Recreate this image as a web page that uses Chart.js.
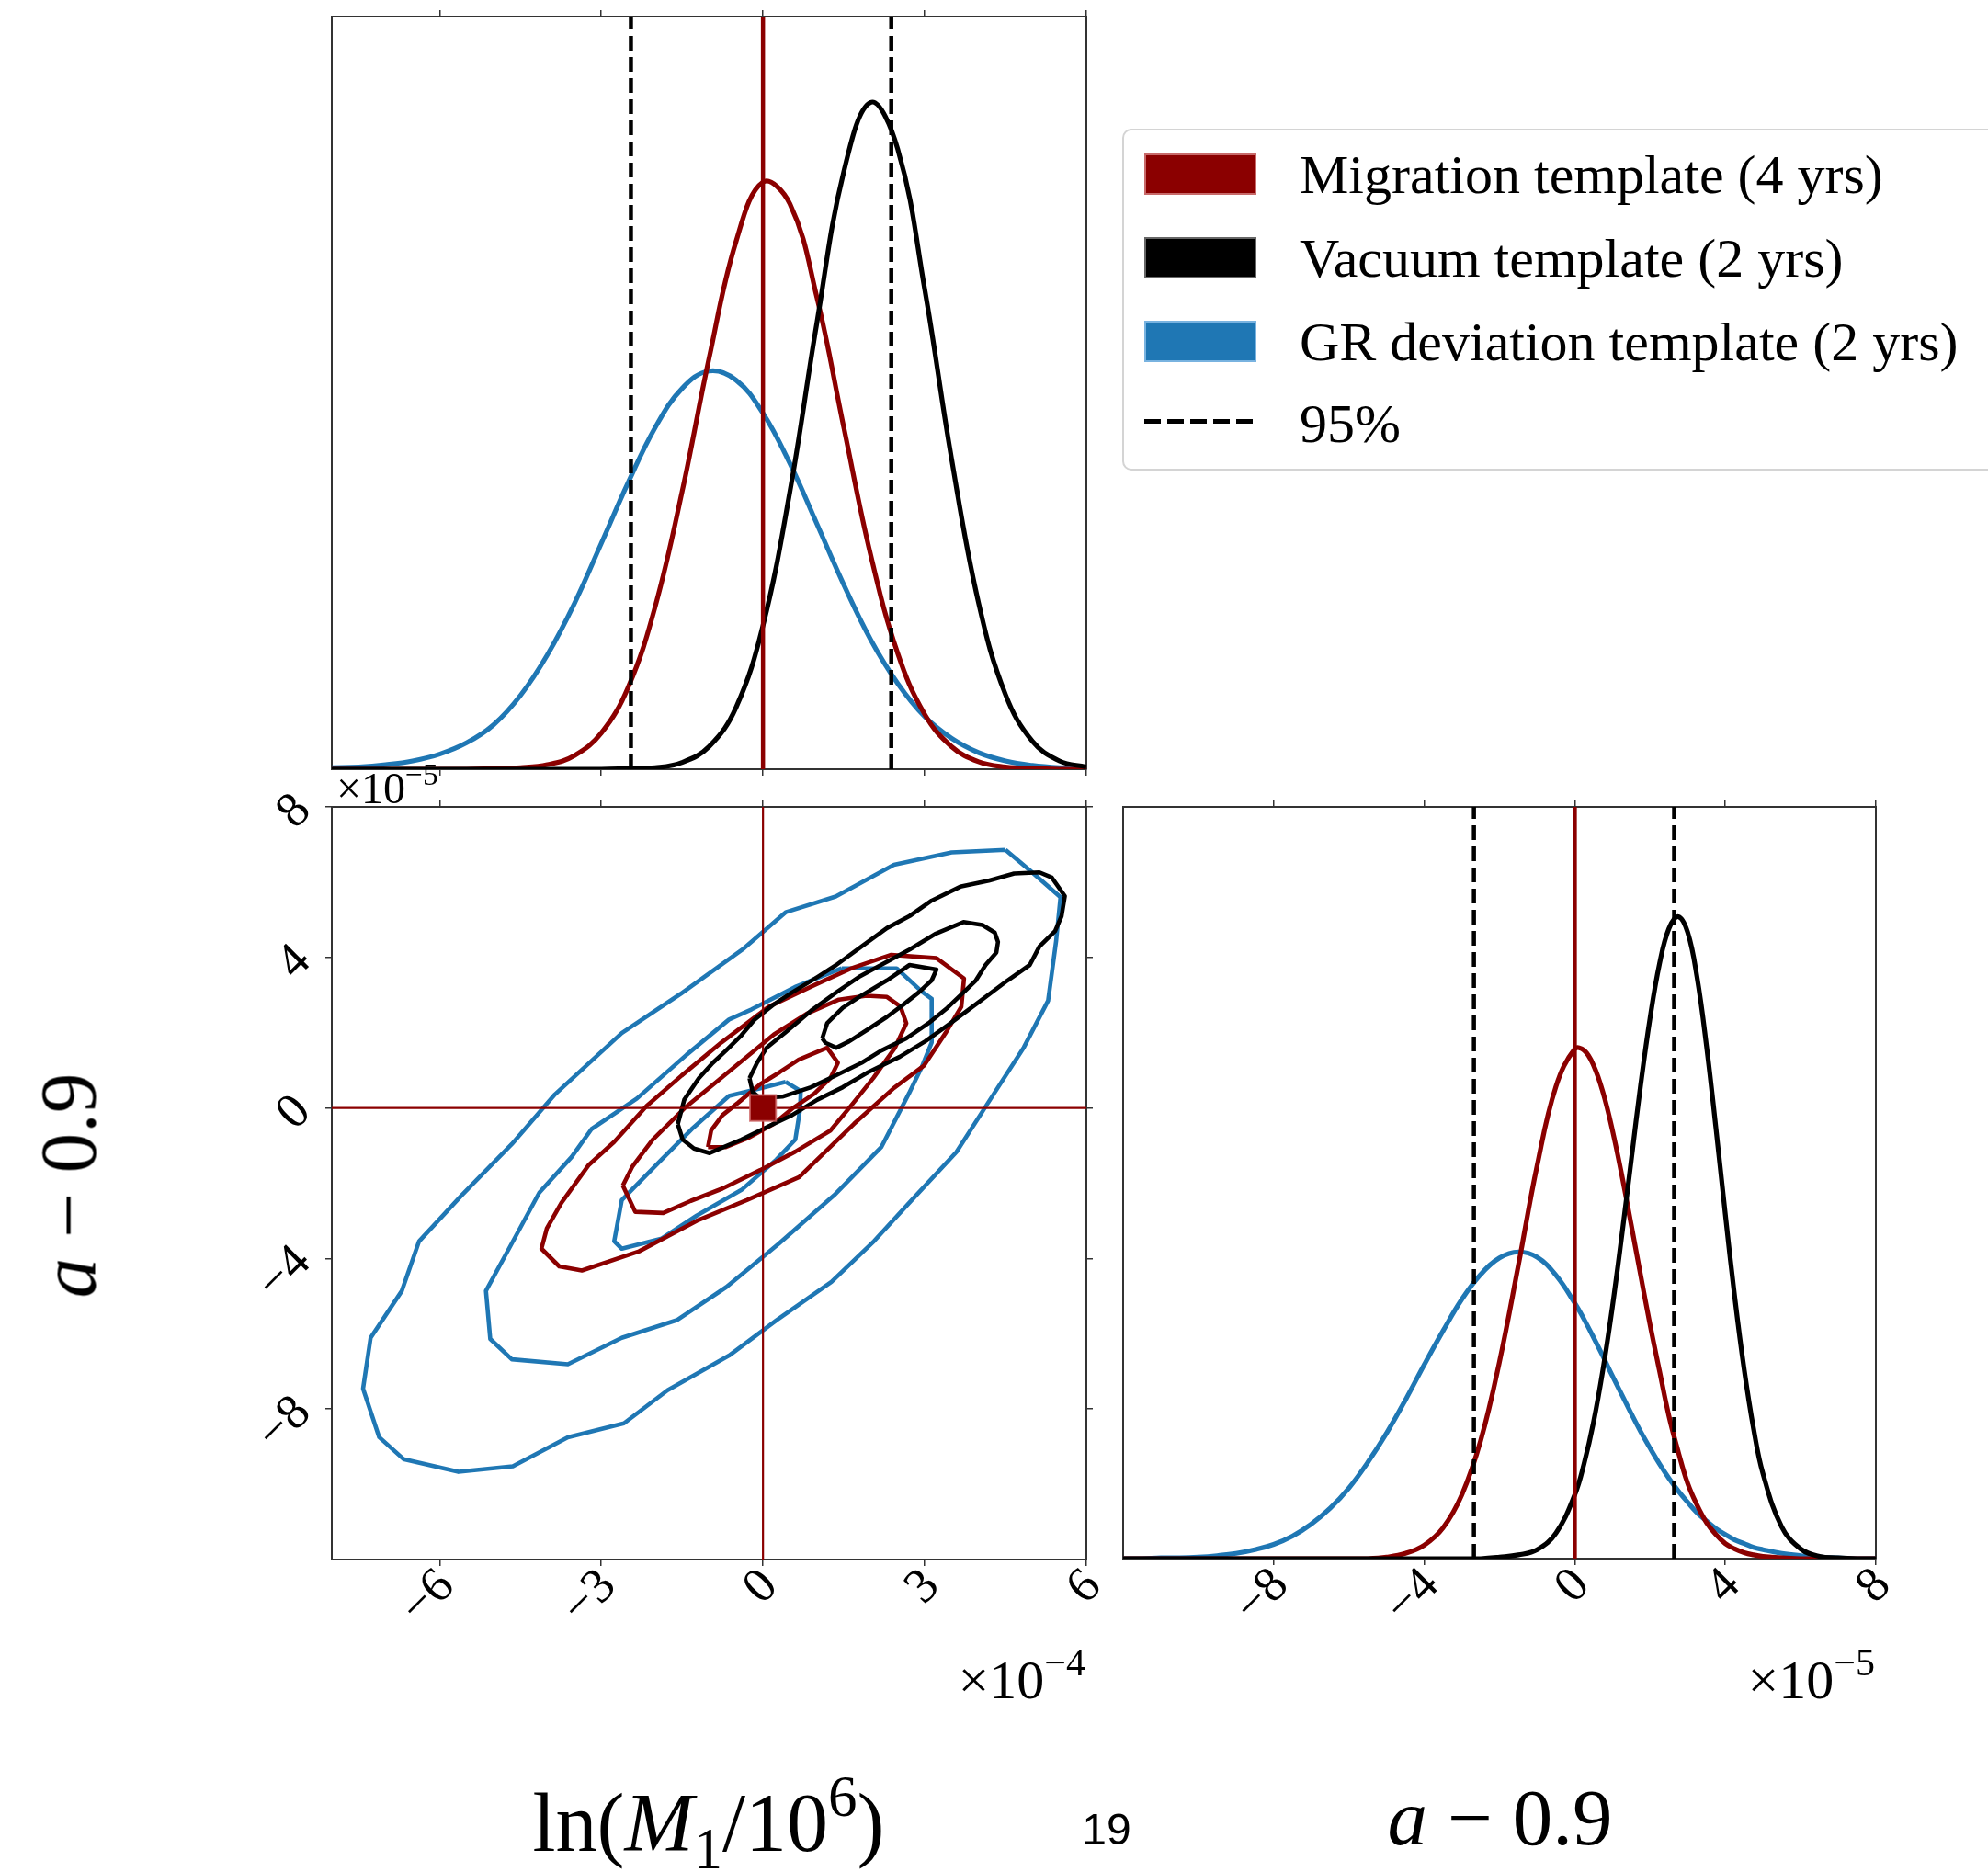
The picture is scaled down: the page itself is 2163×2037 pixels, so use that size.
<!DOCTYPE html>
<html>
<head>
<meta charset="utf-8">
<script src="https://cdn.jsdelivr.net/npm/chart.js@4.4.1/dist/chart.umd.min.js"></script>
<style>
  html, body { margin: 0; padding: 0; background: #fff; }
  #page { position: relative; width: 2163px; height: 2037px; overflow: hidden; font-family: "Liberation Serif", serif; color: #000; }
  canvas { position: absolute; left: 0; top: 0; z-index: 0; }
  .txt { position: absolute; white-space: nowrap; z-index: 2; }
  .sup, .sub { font-size: 0.7em; position: relative; line-height: 0; }
  .sup { top: -0.6em; }
  .sub { top: 0.3em; }
  .legend { position: absolute; left: 1221px; top: 140px; width: 1000px; height: 372px; box-sizing: border-box;
            border: 2px solid #d4d4d4; border-radius: 10px; background: rgba(255,255,255,0.85); z-index: 1; }
  .patch { position: absolute; left: 1245px; width: 122px; height: 45px; box-sizing: border-box; border: 2px solid; z-index: 2; }
  .dash { position: absolute; left: 1245px; top: 456px; width: 122px; height: 5px; z-index: 2;
          background: repeating-linear-gradient(90deg, #000 0 18px, transparent 18px 25px); }
  .leg { left: 1414px; font-size: 60px; line-height: 60px; }
</style>
</head>
<body>
<div id="page">
  <canvas id="topPanel" width="2163" height="2037"></canvas>
  <canvas id="jointPanel" width="2163" height="2037"></canvas>
  <canvas id="sidePanel" width="2163" height="2037"></canvas>

  <div class="legend"></div>
  <div class="patch" style="top:167px; background:#8b0000; border-color:#c86a6a;"></div>
  <div class="patch" style="top:258px; background:#000; border-color:#666;"></div>
  <div class="patch" style="top:349px; background:#1f77b4; border-color:#79b3e0;"></div>
  <div class="dash"></div>
  <div class="txt leg" style="top:160px;">Migration template (4 yrs)</div>
  <div class="txt leg" style="top:251px;">Vacuum template (2 yrs)</div>
  <div class="txt leg" style="top:342px;">GR deviation template (2 yrs)</div>
  <div class="txt leg" style="top:431px;">95%</div>

  <div class="txt" style="left:366px; top:834px; font-size:48px; line-height:48px;">×10<span class="sup">−5</span></div>
  <div class="txt" style="right:982px; top:1798px; font-size:60px; line-height:60px;">×10<span class="sup">−4</span></div>
  <div class="txt" style="right:123px; top:1798px; font-size:60px; line-height:60px;">×10<span class="sup">−5</span></div>

  <div class="txt" style="left:771px; top:1939px; font-size:90px; line-height:90px; transform:translateX(-50%);">ln(<i>M</i><span class="sub">1</span>/10<span class="sup">6</span>)</div>
  <div class="txt" style="left:1632px; top:1934px; font-size:87px; line-height:87px; transform:translateX(-50%);"><i>a</i> − 0.9</div>
  <div class="txt" style="left:74px; top:1290px; font-size:87px; line-height:87px; transform:translate(-50%,-50%) rotate(-90deg);"><i>a</i> − 0.9</div>
  <div class="txt" style="left:1204px; top:1967px; font-size:48px; line-height:48px; font-family:'Liberation Sans', sans-serif; transform:translateX(-50%);">19</div>
</div>

<script>
// marginal of ln(M1/10^6), x in units of 1e-4, heights as fraction of panel
const topGrid = [-8, -7.5, -7, -6.5, -6, -5.5, -5, -4.5, -4, -3.5, -3, -2.5, -2, -1.5, -1, -0.5,
                 0, 0.5, 1, 1.5, 2, 2.5, 3, 3.5, 4, 4.5, 5, 5.5, 6];
const topMigration = [0, 0, 0, 0, 0, 0, 0.001, 0.002, 0.006, 0.018, 0.048, 0.109, 0.216, 0.369, 0.546, 0.701,
                      0.780, 0.751, 0.627, 0.454, 0.284, 0.154, 0.073, 0.030, 0.010, 0.003, 0.001, 0, 0];
const topVacuum = [0, 0, 0, 0, 0, 0, 0, 0, 0, 0, 0, 0.001, 0.002, 0.009, 0.030, 0.082,
                   0.191, 0.369, 0.593, 0.794, 0.886, 0.824, 0.638, 0.412, 0.221, 0.099, 0.037, 0.011, 0.003];
const topGR = [0.002, 0.003, 0.006, 0.011, 0.020, 0.035, 0.059, 0.098, 0.152, 0.220, 0.300, 0.381, 0.454, 0.506, 0.529, 0.517,
               0.473, 0.406, 0.326, 0.245, 0.172, 0.114, 0.070, 0.041, 0.022, 0.011, 0.005, 0.002, 0.001];
const top95 = [-2.45, 2.38];

// marginal of a - 0.9, x in units of 1e-5 (finer steps where the peaks are)
const sideGrid = [-12, -11.5, -11, -10.5, -10, -9.5, -9, -8.5, -8, -7.5, -7, -6.5, -6, -5.5, -5, -4.5, -4, -3.5, -3, -2.5,
                  -2, -1.5, -1, -0.5, 0,
                  0.25, 0.5, 0.75, 1, 1.25, 1.5, 1.75, 2, 2.25, 2.5, 2.75, 3, 3.25, 3.5, 3.75, 4, 4.25, 4.5, 4.75, 5,
                  5.5, 6, 6.5, 7, 7.5, 8];
const sideMigration = [0, 0, 0, 0, 0, 0, 0, 0, 0, 0, 0, 0, 0, 0, 0.002, 0.007, 0.018, 0.041, 0.085, 0.157,
                       0.262, 0.390, 0.523, 0.628, 0.678,
                       0.676, 0.656, 0.620, 0.570, 0.510, 0.444, 0.377, 0.311, 0.250, 0.190, 0.142, 0.100, 0.071, 0.048, 0.032, 0.020, 0.013, 0.008, 0.005, 0.003,
                       0.001, 0, 0, 0, 0, 0];
const sideVacuum = [0, 0, 0, 0, 0, 0, 0, 0, 0, 0, 0, 0, 0, 0, 0, 0, 0, 0, 0, 0,
                    0.002, 0.005, 0.012, 0.034, 0.085,
                    0.127, 0.182, 0.252, 0.335, 0.430, 0.530, 0.630, 0.719, 0.791, 0.838, 0.854, 0.833, 0.773, 0.682, 0.573, 0.458, 0.348, 0.252, 0.173, 0.113,
                    0.042, 0.013, 0.003, 0.001, 0, 0];
const sideGR = [0, 0, 0.001, 0.001, 0.002, 0.004, 0.007, 0.012, 0.019, 0.030, 0.046, 0.067, 0.094, 0.128, 0.167, 0.211, 0.258, 0.303, 0.345, 0.378,
                0.400, 0.408, 0.401, 0.377, 0.340,
                0.318, 0.294, 0.269, 0.243, 0.218, 0.193, 0.169, 0.147, 0.126, 0.107, 0.090, 0.075, 0.061, 0.050, 0.040, 0.032, 0.025, 0.020, 0.015, 0.012,
                0.007, 0.004, 0.002, 0.001, 0, 0];
const side95 = [-2.68, 2.64];

const truthMass = 0;
const truthSpin = 0;
const massTicks = [-6, -3, 0, 3, 6];
const spinTicks = [-8, -4, 0, 4, 8];

// joint contours [lnM (1e-4), a-0.9 (1e-5)]
const grOuter = [[4.50, 6.86], [3.50, 6.79], [2.43, 6.46], [1.35, 5.62], [0.42, 5.20], [-0.38, 4.21], [-1.53, 3.03], [-2.62, 1.99],
  [-3.86, 0.36], [-4.66, -0.96], [-5.59, -2.32], [-6.38, -3.54], [-6.70, -4.86], [-7.28, -6.11], [-7.42, -7.46], [-7.12, -8.75],
  [-6.67, -9.33], [-5.65, -9.67], [-4.64, -9.52], [-3.62, -8.75], [-2.58, -8.38], [-1.77, -7.50], [-0.63, -6.58], [0.25, -5.64],
  [1.27, -4.62], [2.06, -3.54], [2.76, -2.45], [3.59, -1.17], [4.29, 0.39], [4.84, 1.61], [5.29, 2.85], [5.44, 4.45],
  [5.52, 5.60], [4.98, 6.28], [4.50, 6.86]];
const grMid = [[1.46, 3.71], [2.48, 3.71], [2.94, 3.10], [3.13, 2.90], [3.13, 1.74], [2.94, 1.07], [2.71, 0.39], [2.20, -1.03],
  [1.32, -2.32], [0.30, -3.60], [-0.68, -4.76], [-1.60, -5.64], [-2.62, -6.11], [-3.62, -6.81], [-4.66, -6.68], [-5.06, -6.14],
  [-5.14, -4.86], [-4.66, -3.60], [-4.15, -2.25], [-3.55, -1.30], [-3.18, -0.56], [-2.34, 0.25], [-1.42, 1.41], [-0.63, 2.35],
  [-0.21, 2.62], [0.62, 3.23], [1.46, 3.71]];
const grInner = [[0.42, 0.69], [0.70, 0.45], [0.69, -0.02], [0.60, -0.84], [0.25, -1.37], [-0.40, -2.18], [-1.23, -2.86],
  [-1.88, -3.47], [-2.62, -3.74], [-2.76, -3.54], [-2.62, -2.45], [-1.88, -1.37], [-1.32, -0.56], [-0.63, 0.32], [-0.03, 0.53], [0.42, 0.69]];
const migOuter = [[3.22, 3.98], [3.73, 3.44], [3.68, 2.69], [3.40, 2.02], [2.99, 1.13], [2.43, 0.53], [1.69, -0.42], [0.67, -1.84],
  [-0.30, -2.45], [-1.23, -3.00], [-2.30, -3.81], [-3.36, -4.32], [-3.78, -4.21], [-4.11, -3.74], [-4.01, -3.20], [-3.74, -2.52],
  [-3.23, -1.51], [-2.76, -0.90], [-2.16, 0.05], [-1.51, 0.86], [-0.77, 1.74], [0.11, 2.69], [0.90, 3.23], [1.64, 3.71],
  [2.38, 4.07], [3.22, 3.98]];
const migMid = [[-2.60, -2.06], [-2.42, -1.55], [-2.05, -0.85], [-1.45, 0.00], [-0.90, 0.65], [-0.30, 1.36], [0.20, 1.95],
  [0.81, 2.50], [1.41, 2.88], [1.92, 2.98], [2.30, 2.95], [2.55, 2.70], [2.66, 2.25], [2.45, 1.60], [2.05, 0.80], [1.60, 0.00],
  [1.25, -0.60], [0.60, -1.16], [-0.05, -1.65], [-0.75, -2.14], [-1.34, -2.47], [-1.85, -2.79], [-2.37, -2.76], [-2.60, -2.06]];
const migInner = [[-1.02, -1.04], [-0.96, -0.59], [-0.75, -0.19], [-0.46, 0.14], [-0.05, 0.63], [0.31, 0.95], [0.66, 1.28],
  [1.19, 1.60], [1.39, 1.20], [1.25, 0.79], [0.95, 0.38], [0.54, -0.02], [0.19, -0.43], [-0.28, -0.80], [-0.69, -1.04], [-1.02, -1.04]];
const vacOuter = [[-1.58, -0.43], [-1.46, 0.22], [-1.19, 0.79], [-0.93, 1.20], [-0.69, 1.52], [-0.40, 1.93], [-0.16, 2.34],
  [0.19, 2.74], [0.54, 3.07], [1.01, 3.48], [1.36, 3.80], [1.83, 4.29], [2.30, 4.78], [2.72, 5.10], [3.13, 5.51], [3.66, 5.88],
  [4.19, 6.04], [4.66, 6.23], [5.13, 6.26], [5.36, 6.12], [5.60, 5.63], [5.54, 5.10], [5.42, 4.70], [5.13, 4.29], [4.95, 3.80],
  [4.54, 3.39], [4.01, 2.82], [3.48, 2.25], [3.01, 1.77], [2.54, 1.36], [1.95, 0.95], [1.48, 0.55], [1.01, 0.22], [0.54, -0.19],
  [0.07, -0.51], [-0.40, -0.84], [-0.99, -1.20], [-1.28, -1.08], [-1.49, -0.84], [-1.58, -0.43]];
const vacMid = [[-0.25, 0.79], [-0.11, 1.20], [0.07, 1.60], [0.42, 2.01], [0.89, 2.58], [1.36, 3.07], [1.78, 3.48], [2.19, 3.80],
  [2.72, 4.21], [3.19, 4.62], [3.72, 4.94], [4.07, 4.86], [4.30, 4.66], [4.36, 4.41], [4.33, 4.13], [4.13, 3.80], [3.95, 3.39],
  [3.72, 3.07], [3.42, 2.66], [3.07, 2.25], [2.66, 1.85], [2.19, 1.52], [1.83, 1.20], [1.36, 0.87], [0.89, 0.55], [0.36, 0.30],
  [-0.05, 0.26], [-0.19, 0.42], [-0.25, 0.79]];
const vacInner = [[1.10, 1.85], [1.19, 2.25], [1.48, 2.66], [1.83, 2.99], [2.30, 3.39], [2.72, 3.80], [3.22, 3.68], [3.13, 3.39],
  [2.89, 3.07], [2.60, 2.74], [2.30, 2.42], [1.95, 2.09], [1.60, 1.77], [1.36, 1.60], [1.16, 1.73], [1.10, 1.85]];

const RED = '#8b0000', BLUE = '#1f77b4', BLACK = '#000000';
const TICK_FONT = '54px "Liberation Serif", serif';
const EDGE = '#333333';

function curve(grid, vals, color) {
  return {
    data: grid.map((x, i) => ({ x: x, y: vals[i] })),
    showLine: true, borderColor: color, borderWidth: 5.2,
    pointRadius: 0, tension: 0.4, fill: false
  };
}

function vline(x, y0, y1, color, width, dash) {
  return {
    data: [{ x: x, y: y0 }, { x: x, y: y1 }],
    showLine: true, borderColor: color, borderWidth: width,
    borderDash: dash || [], pointRadius: 0
  };
}

function hline(y, x0, x1, color, width) {
  return { data: [{ x: x0, y: y }, { x: x1, y: y }], showLine: true, borderColor: color, borderWidth: width, pointRadius: 0 };
}

function loop(pts, color) {
  return {
    data: pts.map(p => ({ x: p[0], y: p[1] })),
    showLine: true, borderColor: color, borderWidth: 4.6,
    pointRadius: 0, tension: 0, borderJoinStyle: 'round'
  };
}

function axis(which, position, min, max, ticks) {
  return {
    type: 'linear', axis: which, position: position, min: min, max: max,
    ticks: { display: false },
    grid: { display: ticks.length > 0, drawOnChartArea: false, drawTicks: true, tickLength: 7, color: EDGE, lineWidth: 1.5 },
    border: { display: true, color: EDGE, width: 2 },
    afterBuildTicks: s => { s.ticks = ticks.map(v => ({ value: v })); },
    afterFit: s => { if (s.isHorizontal()) { s.height = 8; } else { s.width = 8; } }
  };
}

function fmt(v) {
  return v < 0 ? '\u2212' + Math.abs(v) : String(v);
}

function rotText(ctx, text, x, y) {
  ctx.save();
  ctx.translate(x, y);
  ctx.rotate(-Math.PI / 4);
  ctx.textAlign = 'right';
  ctx.textBaseline = 'middle';
  ctx.fillText(text, 0, 0);
  ctx.restore();
}

function bottomLabels(vals) {
  return chart => {
    const ctx = chart.ctx, s = chart.scales.x;
    ctx.save();
    ctx.font = TICK_FONT;
    ctx.fillStyle = '#000';
    vals.forEach(v => rotText(ctx, fmt(v), s.getPixelForValue(v) + 8, chart.chartArea.bottom + 21));
    ctx.restore();
  };
}

function leftLabels(vals) {
  return chart => {
    const ctx = chart.ctx, s = chart.scales.y;
    ctx.save();
    ctx.font = TICK_FONT;
    ctx.fillStyle = '#000';
    vals.forEach(v => rotText(ctx, fmt(v), chart.chartArea.left - 31, s.getPixelForValue(v) - 4));
    ctx.restore();
  };
}

function panel(id, pad, scales, datasets, drawers) {
  return new Chart(document.getElementById(id), {
    type: 'scatter',
    data: { datasets: datasets },
    options: {
      responsive: false,
      animation: false,
      devicePixelRatio: 1,
      events: [],
      layout: { padding: pad },
      plugins: { legend: { display: false }, tooltip: { enabled: false } },
      scales: scales
    },
    plugins: [{
      id: 'tickText',
      afterDraw: chart => drawers.forEach(d => d(chart))
    }]
  });
}

// top: marginal of ln(M1/10^6)
panel('topPanel', { left: 353, top: 10, right: 973, bottom: 1192 }, {
  x: axis('x', 'bottom', -8, 6, massTicks),
  x2: axis('x', 'top', -8, 6, massTicks),
  y: axis('y', 'left', 0, 1, []),
  y2: axis('y', 'right', 0, 1, [])
}, [
  vline(truthMass, 0, 1, RED, 4.5),
  vline(top95[0], 0, 1, BLACK, 4.5, [16, 7]),
  vline(top95[1], 0, 1, BLACK, 4.5, [16, 7]),
  curve(topGrid, topVacuum, BLACK),
  curve(topGrid, topMigration, RED),
  curve(topGrid, topGR, BLUE)
], []);

// joint panel
panel('jointPanel', { left: 353, top: 870, right: 973, bottom: 332 }, {
  x: axis('x', 'bottom', -8, 6, massTicks),
  x2: axis('x', 'top', -8, 6, massTicks),
  y: axis('y', 'left', -12, 8, spinTicks),
  y2: axis('y', 'right', -12, 8, spinTicks)
}, [
  {
    data: [{ x: truthMass, y: truthSpin }], pointStyle: 'rect', pointRadius: 20,
    backgroundColor: RED, borderColor: 'rgba(205,100,100,0.8)', borderWidth: 2
  },
  hline(truthSpin, -8, 6, RED, 2.2),
  vline(truthMass, -12, 8, RED, 2.2),
  loop(vacInner, BLACK), loop(vacMid, BLACK), loop(vacOuter, BLACK),
  loop(migInner, RED), loop(migMid, RED), loop(migOuter, RED),
  loop(grInner, BLUE), loop(grMid, BLUE), loop(grOuter, BLUE)
], [bottomLabels(massTicks), leftLabels(spinTicks)]);

// right: marginal of a - 0.9
panel('sidePanel', { left: 1214, top: 870, right: 114, bottom: 333 }, {
  x: axis('x', 'bottom', -12, 8, spinTicks),
  x2: axis('x', 'top', -12, 8, spinTicks),
  y: axis('y', 'left', 0, 1, []),
  y2: axis('y', 'right', 0, 1, [])
}, [
  vline(truthSpin, 0, 1, RED, 4.5),
  vline(side95[0], 0, 1, BLACK, 4.5, [16, 7]),
  vline(side95[1], 0, 1, BLACK, 4.5, [16, 7]),
  curve(sideGrid, sideVacuum, BLACK),
  curve(sideGrid, sideMigration, RED),
  curve(sideGrid, sideGR, BLUE)
], [bottomLabels(spinTicks)]);
</script>
</body>
</html>
